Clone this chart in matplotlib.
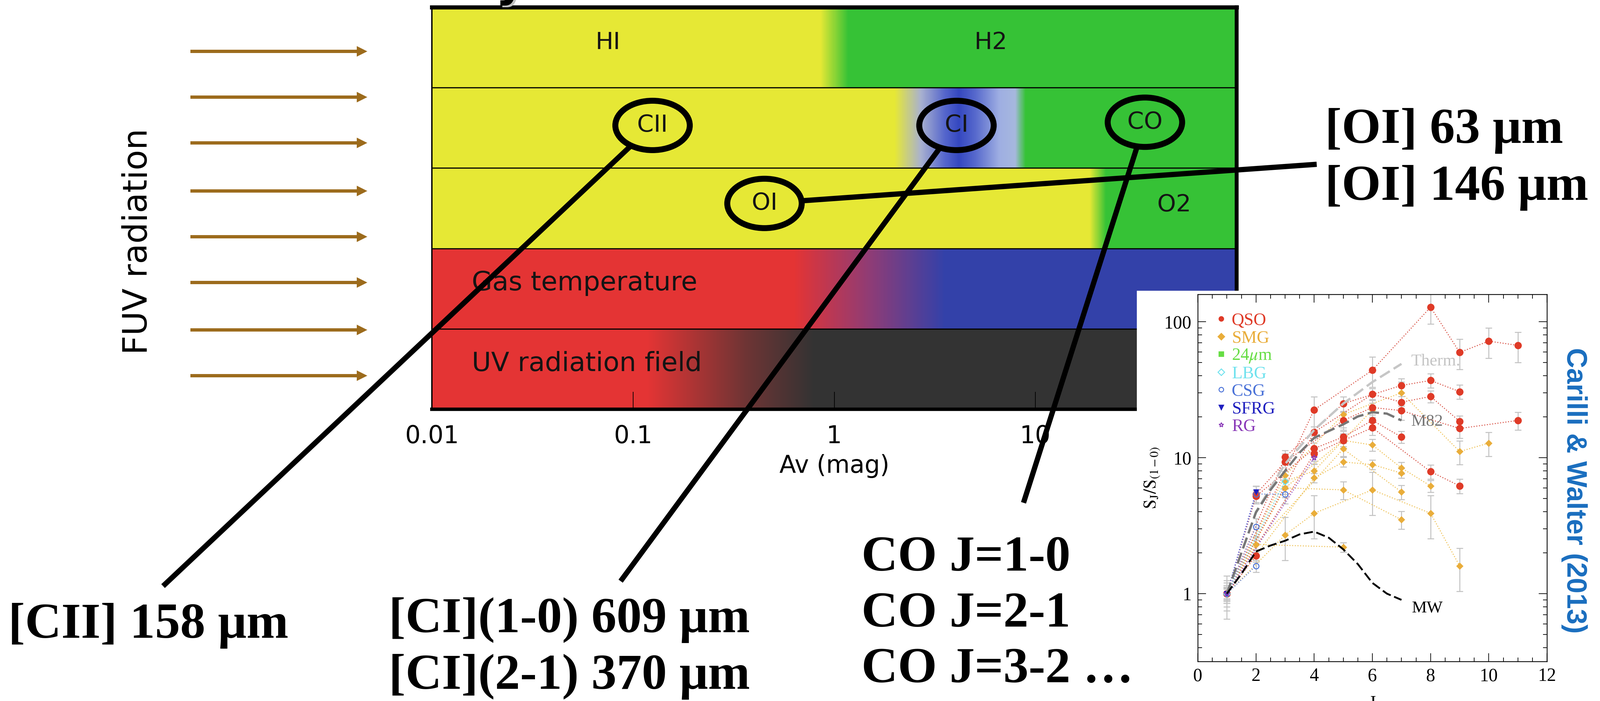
import matplotlib
matplotlib.use('Agg')
import matplotlib.pyplot as plt
import numpy as np
from matplotlib.colors import to_rgb
from matplotlib.lines import Line2D
from matplotlib.patches import Ellipse, Rectangle
from matplotlib.ticker import MultipleLocator, LogLocator, NullFormatter, NullLocator

plt.rcParams['mathtext.fontset'] = 'stix'

W, H = 4857, 2129

# ---------------------------------------------------------------- PDR sketch
av_ticks = [0.01, 0.1, 1, 10, 100]
av_labels = ['0.01', '0.1', '1', '10', '']

YEL, GRN, RED, BLU, GRY = '#e6e835', '#36c236', '#e43434', '#3341a9', '#333333'

# colour stops (log10 Av, colour) for each band, top band first
band_stops = [
    [(-2, YEL), (-0.07, YEL), (0.07, GRN), (2, GRN)],
    [(-2, YEL), (0.30, YEL), (0.43, '#a9b1cf'), (0.55, '#5566cc'), (0.62, '#3447c0'),
     (0.70, '#5668cc'), (0.82, '#9eaee2'), (0.90, '#a6b8de'), (0.95, GRN), (2, GRN)],
    [(-2, YEL), (1.27, YEL), (1.35, GRN), (2, GRN)],
    [(-2, RED), (-0.20, RED), (0.18, '#8e3c76'), (0.55, BLU), (2, BLU)],
    [(-2, RED), (-0.93, RED), (-0.44, '#6e3434'), (-0.10, GRY), (2, GRY)],
]

phase_labels = ['HI', 'H2', 'O2']
phase_av = [0.075, 6.0, 49.0]
phase_row = [4.56, 4.56, 2.54]

band_titles = ['Gas temperature', 'UV radiation field']
band_title_row = [1.568, 0.565]

species = ['CII', 'CI', 'CO', 'OI']
species_av = [0.125, 4.05, 35.0, 0.45]
species_row = [3.53, 3.53, 3.57, 2.56]
# where each connector ends, next to its line list (pixels)
species_anchor = [(495, 1780), (1884, 1765), (3107, 1527), (3997, 499)]

line_lists = ['[CII] 158 μm', '[CI](1-0) 609 μm', '[CI](2-1) 370 μm',
              'CO J=1-0', 'CO J=2-1', 'CO J=3-2 …', '[OI] 63 μm', '[OI] 146 μm']
line_list_pos = [(25, 1937), (1180, 1920), (1180, 2092), (2615, 1733),
                 (2615, 1903), (2615, 2072), (4022, 434), (4022, 607)]

fuv_rows = [156, 295, 434, 580, 719, 858, 1002, 1141]

# ---------------------------------------------------------------- CO SLEDs
qso_j = [[1, 4, 6, 8, 9, 10, 11], [1, 3, 5, 7, 8, 9], [1, 4, 6, 7, 8, 9],
         [1, 2, 3, 5, 6, 7, 9, 11], [1, 2, 4, 5, 6, 7], [1, 4, 5, 6, 8, 9], [1, 2]]
qso_r = [[1, 22.5, 44, 128, 59.5, 72, 67], [1, 10.1, 25, 34, 37, 30.6],
         [1, 15.4, 29.3, 25.6, 28.2, 18.5], [1, 5.4, 9.3, 18.8, 23.4, 22.2, 16.4, 18.8],
         [1, 5.2, 11.7, 14.2, 18.8, 14.2], [1, 10.7, 13.4, 16.6, 7.9, 6.2], [1, 1.9]]
qso_err = [0.25, 0.12, 0.1, 0.15, 0.1, 0.12, 0.1]

smg_j = [[1, 3, 5, 7, 9, 10], [1, 3, 4, 6], [1, 3, 5, 6, 7, 8], [1, 4, 5, 6, 7],
         [1, 2, 5, 7], [1, 3, 4, 6, 8, 9], [1, 2, 5], [1, 3, 5, 7]]
smg_r = [[1, 7.4, 20.8, 30, 11.1, 12.8], [1, 6.7, 8.0, 22.5], [1, 6.0, 13.4, 12.4, 8.4, 6.2],
         [1, 7.1, 9.3, 8.9, 7.7], [1, 2.3, 11.6, 5.6], [1, 2.7, 3.9, 5.8, 3.9, 1.6],
         [1, 2.3, 2.2], [1, 6.0, 5.8, 3.5]]
smg_err = [0.2, 0.12, 0.1, 0.08, 0.12, 0.35, 0.08, 0.15]

csg_j = [[1, 2, 3], [1, 2], [1, 2]]
csg_r = [[1, 5.4, 5.4], [1, 3.1], [1, 1.6]]
csg_err = [0.15, 0.15, 0.1]

lbg_j, lbg_r = [1, 3], [1, 6.7]
sfrg_j, sfrg_r = [1, 2], [1, 5.6]
rg_j, rg_r = [1, 4], [1, 10.0]

therm_j = [1, 2, 3, 4, 5, 6, 7]
therm_r = [1, 4, 9, 16, 25, 36, 49]
m82_j = [1, 1.5, 2, 2.5, 3, 3.5, 4, 4.5, 5, 5.5, 6, 6.5, 7]
m82_r = [1, 2.0, 3.96, 5.8, 8.0, 10.9, 14.0, 15.7, 17.6, 20.1, 21.6, 21.1, 18.8]
mw_j = [1, 1.5, 2, 2.5, 3, 3.5, 4, 4.5, 5, 5.5, 6, 6.5, 7]
mw_r = [1, 1.4, 2.04, 2.26, 2.45, 2.73, 2.86, 2.58, 2.12, 1.65, 1.2, 1.0, 0.9]

legend_names = ['QSO', 'SMG', r'24$\mu$m', 'LBG', 'CSG', 'SFRG', 'RG']
legend_colors = ['#df3a27', '#e9ad3a', '#66dd44', '#70e2ee', '#4a72d8', '#1f1fbf', '#8a3ab8']
legend_markers = ['o', 'D', 's', 'D', 'o', 'v', '*']
legend_filled = [True, True, True, False, False, True, False]

fig = plt.figure(figsize=(W / 100, H / 100), dpi=100)
fig.patch.set_facecolor('white')

# ---- band diagram
ax = fig.add_axes([1311 / W, 1 - 1243 / H, (3754 - 1311) / W, (1243 - 22) / H], zorder=1)
ax.set_xscale('log')
ax.set_xlim(0.01, 100)
ax.set_ylim(0, 5)

edges = np.logspace(-2, 2, 1201)
mids = np.log10(np.sqrt(edges[:-1] * edges[1:]))
for i, stops in enumerate(band_stops):
    pos = [s[0] for s in stops]
    cols = np.array([to_rgb(s[1]) for s in stops])
    rgb = np.stack([np.interp(mids, pos, cols[:, k]) for k in range(3)], axis=-1)
    top = 5 - i
    ax.pcolormesh(edges, [top - 1, top], rgb[np.newaxis], shading='flat', zorder=0)

for y in range(1, 5):
    ax.axhline(y, color='black', lw=2.5, zorder=2)

for side, lw in zip(['top', 'bottom', 'left', 'right'], [9, 7.5, 3, 8.5]):
    ax.spines[side].set_linewidth(lw)

ax.set_xticks(av_ticks, av_labels)
ax.xaxis.set_minor_locator(NullLocator())
ax.set_yticks([])
ax.tick_params(axis='x', direction='in', length=38, width=1.5, labelsize=53, pad=33)
ax.set_xlabel('Av (mag)', fontsize=53, labelpad=12)

for name, av, row in zip(phase_labels, phase_av, phase_row):
    ax.text(av, row, name, ha='center', va='center', fontsize=52, color='#141414')
for name, row in zip(band_titles, band_title_row):
    ax.text(0.0158, row, name, ha='left', va='center', fontsize=58, color='#141414')
for name, av, row in zip(species, species_av, species_row):
    ax.text(av, row, name, ha='center', va='center', fontsize=52, color='#141414')

# ---- overlay in pixel units for annotations
ov = fig.add_axes([0, 0, 1, 1], zorder=2)
ov.set_xlim(0, W)
ov.set_ylim(H, 0)
ov.axis('off')


def to_px(x, y):
    xd, yd = ax.transData.transform((x, y))
    return xd, H - yd


ew, eh = 226, 150
for av, row, (lx, ly) in zip(species_av, species_row, species_anchor):
    cx, cy = to_px(av, row)
    ov.add_patch(Ellipse((cx, cy), ew, eh, fill=False, ec='black', lw=13))
    dx, dy = lx - cx, ly - cy
    t = 1 / np.hypot(dx / (ew / 2), dy / (eh / 2))
    ov.plot([cx + t * dx, lx], [cy + t * dy, ly], color='black', lw=11.5,
            solid_capstyle='butt')

for txt, (x, y) in zip(line_lists, line_list_pos):
    ov.text(x, y, txt, ha='left', va='baseline', fontsize=110, fontweight='bold',
            family='Liberation Serif', color='black')

for y in fuv_rows:
    ov.arrow(578, y, 537, 0, width=10, head_width=32, head_length=32,
             length_includes_head=True, color='#9c6b1c', lw=0)
ov.text(417, 734, 'FUV radiation', rotation=90, ha='center', va='center',
        fontsize=73, color='black')

# descender of the slide title above the frame
ov.text(1556, -8, 'y', ha='center', va='baseline', fontsize=100, fontweight='bold',
        color='#c0c0c0', clip_on=False)
ov.text(1550, -13, 'y', ha='center', va='baseline', fontsize=100, fontweight='bold',
        color='black', clip_on=False)

ov.add_patch(Rectangle((3451, 883), W - 3451, H - 883, facecolor='white',
                       edgecolor='none', zorder=5))
ov.text(4779, 1490, 'Carilli & Walter (2013)', rotation=-90, ha='center', va='center',
        fontsize=61, fontweight='bold', family='Liberation Sans', color='#1a6ebf',
        zorder=6)

# ---- CO excitation ladder
ax2 = fig.add_axes([3636 / W, 1 - 2009 / H, (4696 - 3636) / W, (2009 - 894) / H], zorder=3)
ax2.set_yscale('log')
ax2.set_xlim(0, 12)
ax2.set_ylim(0.317, 159)
serif = 'Liberation Serif'


def sled(js, rs, errs, color, line_color, marker, ms, filled=True):
    for j, r, e in zip(js, rs, errs):
        r = np.asarray(r, dtype=float)
        ax2.errorbar(j, r, yerr=r * e, fmt='none', ecolor='#c4c4c4', elinewidth=2.2,
                     capsize=7, capthick=2.2, zorder=2)
        ax2.plot(j, r, ls=':', lw=2.2, color=line_color, zorder=3)
        ax2.plot(j, r, ls='none', marker=marker, ms=ms, mec=color, mew=2,
                 mfc=color if filled else 'none', zorder=4)


sled(smg_j, smg_r, smg_err, legend_colors[1], '#efc35a', 'D', 9)
sled(qso_j, qso_r, qso_err, legend_colors[0], '#d9564a', 'o', 14)
sled(csg_j, csg_r, csg_err, legend_colors[4], '#6d8de0', 'o', 12, filled=False)
sled([lbg_j], [lbg_r], [0.12], legend_colors[3], legend_colors[3], 'D', 10, filled=False)
sled([sfrg_j], [sfrg_r], [0.1], legend_colors[5], '#5a5ad0', 'v', 10)
sled([rg_j], [rg_r], [0.1], legend_colors[6], '#9a5ac8', '*', 13, filled=False)

ax2.plot(therm_j, therm_r, color='#c6c6c6', lw=5, dashes=(5, 2), zorder=5)
ax2.plot(m82_j, m82_r, color='#777777', lw=5, dashes=(5, 2), zorder=5)
ax2.plot(mw_j, mw_r, color='black', lw=4, dashes=(5, 2), zorder=5)
ax2.text(7.33, 50.8, 'Therm.', ha='left', va='center', fontsize=37, family=serif,
         color='#c4c4c4')
ax2.text(7.33, 18.4, 'M82', ha='left', va='center', fontsize=37, family=serif,
         color='#777777')
ax2.text(7.35, 0.78, 'MW', ha='left', va='center', fontsize=37, family=serif,
         color='black')

handles = [Line2D([], [], ls='none', marker=m, ms=10, mec=c, mew=2,
                  mfc=c if f else 'none')
           for m, c, f in zip(legend_markers, legend_colors, legend_filled)]
ax2.legend(handles, legend_names, loc='upper left', bbox_to_anchor=(0.055, 0.95),
           frameon=False, handlelength=0.5, handletextpad=0.35, labelspacing=0.1,
           borderpad=0, borderaxespad=0, labelcolor=legend_colors,
           prop={'family': serif, 'size': 38})

ax2.set_xticks(range(0, 13, 2))
ax2.xaxis.set_minor_locator(MultipleLocator(0.5))
ax2.set_yticks([1, 10, 100], ['1', '10', '100'])
ax2.yaxis.set_minor_locator(LogLocator(subs=np.arange(2, 10)))
ax2.yaxis.set_minor_formatter(NullFormatter())
ax2.tick_params(which='both', direction='in', top=True, right=True, width=1.5,
                labelsize=40, labelfontfamily=serif)
ax2.tick_params(which='major', length=18, pad=14)
ax2.tick_params(which='minor', length=9)
for s in ax2.spines.values():
    s.set_linewidth(1.8)
ax2.set_ylabel(r'$\mathrm{S_J/S_{(1-0)}}$', fontsize=38, labelpad=6)
ax2.set_xlabel('J', fontsize=40, family=serif, labelpad=22)

fig.savefig('out.png', dpi=100)
